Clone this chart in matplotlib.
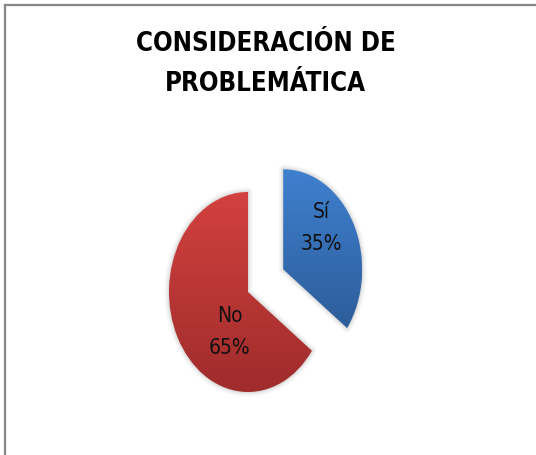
import matplotlib.pyplot as plt
import numpy as np
from matplotlib.lines import Line2D
from matplotlib.patches import Wedge
from matplotlib.colors import LinearSegmentedColormap

categories = ["Sí", "No"]
values = [35, 65]
title = "CONSIDERACIÓN DE\nPROBLEMÁTICA"

# top / bottom colours of the gradient fill for each slice
grad_colors = [("#3f80cf", "#2d5d9a"), ("#d2413f", "#9f2c2b")]

W, H = 536, 455
fig = plt.figure(figsize=(W / 100, H / 100), dpi=100)

# outer frame: only top and left edges fall inside the picture
fig.add_artist(Line2D([5 / W, 1.0], [1 - 5 / H, 1 - 5 / H], transform=fig.transFigure,
                      color="#878787", lw=1.6))
fig.add_artist(Line2D([5 / W, 5 / W], [0.0, 1 - 5 / H], transform=fig.transFigure,
                      color="#878787", lw=1.6))

fig.text(0.496, 1 - 64 / H, title, ha="center", va="center", multialignment="center",
         fontsize=18.5, fontweight="bold", linespacing=1.68,
         family="DejaVu Sans", fontstretch="condensed")

# pie is slightly taller than wide in the reference (rx ~ 79 px, ry ~ 100 px)
ax = fig.add_axes([90 / W, 13 / H, 316 / W, 400 / H])
wedges, _ = ax.pie(values, startangle=90, counterclock=False, explode=[0.5, 0],
                   colors=[c[0] for c in grad_colors], radius=1.0)

for w, (top, bot) in zip(wedges, grad_colors):
    # soft shadow halo
    for lw, a in [(7, 0.03), (5, 0.04), (3, 0.06), (1.5, 0.08)]:
        ax.add_patch(Wedge(w.center, w.r, w.theta1, w.theta2, facecolor="none",
                           edgecolor="#555555", lw=lw, alpha=a, zorder=1,
                           joinstyle="round"))
    ext = w.get_path().get_extents()
    cmap = LinearSegmentedColormap.from_list("g", [bot, top])
    grad = np.linspace(0, 1, 256).reshape(-1, 1)
    im = ax.imshow(grad, cmap=cmap, origin="lower", aspect="auto",
                   extent=[ext.x0, ext.x1, ext.y0, ext.y1], zorder=2)
    im.set_clip_path(w)
    w.set_facecolor("none")
    w.set_edgecolor("none")

# slice labels
label_pos = [(0.48, 0.41), (-0.23, -0.40)]
centers = [w.center for w in wedges]
for cat, v, (dx, dy), c in zip(categories, values, label_pos, centers):
    ax.text(c[0] + dx, c[1] + dy, f"{cat}\n{v}%", ha="center", va="center",
            fontsize=15, color="#111111", linespacing=1.75, zorder=5,
            family="DejaVu Sans", fontstretch="condensed")

ax.set_aspect("auto")
ax.set_xlim(-2, 2)
ax.set_ylim(-1.5, 2.5)
ax.axis("off")

fig.savefig("out.png", dpi=100)
